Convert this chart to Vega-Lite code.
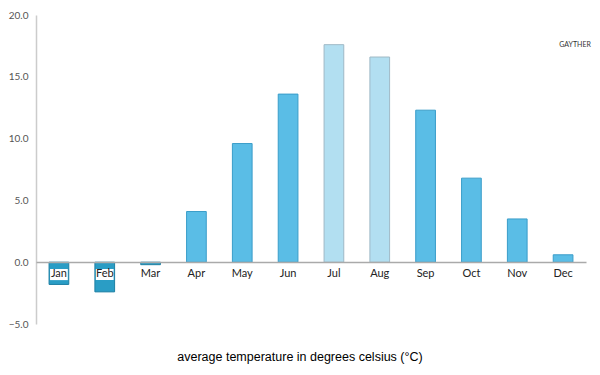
{
  "$schema": "https://vega.github.io/schema/vega-lite/v6.json",
  "width": 550,
  "height": 309,
  "autosize": {"type": "none"},
  "padding": {"left": 36, "top": 15, "right": 14, "bottom": 51},
  "background": "white",
  "config": {"view": {"stroke": null}, "font": "Lato"},
  "title": {
    "text": "average temperature in degrees celsius (°C)",
    "orient": "bottom",
    "font": "Liberation Sans",
    "fontSize": 12.5,
    "fontWeight": "normal",
    "color": "#000",
    "offset": 22,
    "anchor": "middle",
    "dx": -11
  },
  "data": {
    "values": [
      {"month": "Jan", "temp": -1.8, "group": "cold"},
      {"month": "Feb", "temp": -2.4, "group": "cold"},
      {"month": "Mar", "temp": -0.2, "group": "cold"},
      {"month": "Apr", "temp": 4.1, "group": "normal"},
      {"month": "May", "temp": 9.6, "group": "normal"},
      {"month": "Jun", "temp": 13.6, "group": "normal"},
      {"month": "Jul", "temp": 17.6, "group": "peak"},
      {"month": "Aug", "temp": 16.6, "group": "peak"},
      {"month": "Sep", "temp": 12.3, "group": "normal"},
      {"month": "Oct", "temp": 6.8, "group": "normal"},
      {"month": "Nov", "temp": 3.5, "group": "normal"},
      {"month": "Dec", "temp": 0.6, "group": "normal"}
    ]
  },
  "layer": [
    {
      "mark": {"type": "bar", "strokeWidth": 1},
      "encoding": {
        "x": {
          "field": "month",
          "type": "nominal",
          "sort": null,
          "scale": {"domain": ["Jan","Feb","Mar","Apr","May","Jun","Jul","Aug","Sep","Oct","Nov","Dec"], "paddingInner": 0.57, "paddingOuter": 0.285},
          "axis": {
            "title": null,
            "labelAngle": 0,
            "offset": -62,
            "zindex": 1,
            "domainColor": "#aaaaaa",
            "domainWidth": 1.5,
            "ticks": false,
            "labelPadding": 5,
            "labelFontSize": 11,
            "labelColor": "#222",
            "labelFont": "Lato"
          }
        },
        "y": {
          "field": "temp",
          "type": "quantitative",
          "scale": {"domain": [-5, 20], "nice": false},
          "axis": {
            "title": null,
            "values": [-5, 0, 5, 10, 15, 20],
            "format": ".1f",
            "grid": false,
            "ticks": false,
            "domainColor": "#cccccc",
            "domainWidth": 1.5,
            "labelPadding": 8,
            "labelFontSize": 10,
            "labelColor": "#555",
            "labelFont": "Lato"
          }
        },
        "color": {
          "field": "group",
          "type": "nominal",
          "scale": {"domain": ["cold", "normal", "peak"], "range": ["#2a9dc5", "#5abde6", "#b2dff1"]},
          "legend": null
        },
        "stroke": {
          "field": "group",
          "type": "nominal",
          "scale": {"domain": ["cold", "normal", "peak"], "range": ["#1d7fa3", "#3a9dc9", "#9fb9c6"]},
          "legend": null
        }
      }
    },
    {
      "transform": [{"filter": {"field": "month", "oneOf": ["Jan", "Feb"]}}],
      "mark": {"type": "bar", "color": "white", "width": {"band": 0.9}},
      "encoding": {
        "x": {"field": "month", "type": "nominal"},
        "y": {"datum": -0.55},
        "y2": {"datum": -1.45}
      }
    },
    {
      "data": {"values": [{"label": "GAYTHER", "m": "Dec", "v": 17.6}]},
      "mark": {"type": "text", "fontSize": 7, "color": "#333", "dx": 12, "font": "Lato"},
      "encoding": {
        "x": {"field": "m", "type": "nominal"},
        "y": {"field": "v", "type": "quantitative"},
        "text": {"field": "label"}
      }
    }
  ]
}
